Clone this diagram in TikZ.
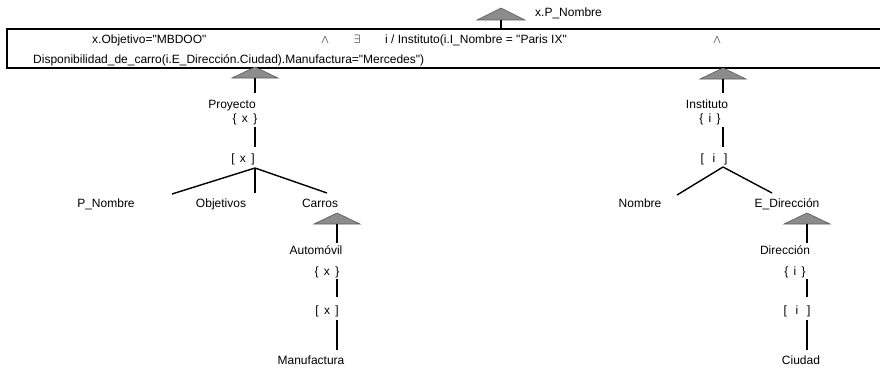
\documentclass[tikz,border=0pt]{standalone}
\usepackage{fontspec}
\setmainfont{Liberation Sans}[Ligatures=TeXOff]
\tikzset{
  lbl/.style={inner sep=0pt, text height=8.6pt, text depth=0pt, font=\fontsize{12}{14}\selectfont},
  tri/.style={fill=black!45, draw=black!65, line width=0.6pt},
  stem/.style={line width=1.4pt},
}
\begin{document}
\begin{tikzpicture}[x=1pt,y=-1pt]
    \useasboundingbox (0,0) rectangle (880,369);

    % consulta
    \node[draw, line width=1.1pt, minimum width=877pt, minimum height=39pt, inner sep=0pt] (qry) at (445.5,48.5) {};
    \node[lbl, anchor=west] (obj) at (92,39) {x.Objetivo="MBDOO"};
    \node[lbl] (and1) at (325,39) {$\wedge$};
    \node[lbl] (exi) at (357,39) {$\exists$};
    \node[lbl, anchor=west] (ins) at (385,39) {i / Instituto(i.I\_Nombre = "Paris IX"};
    \node[lbl] (and2) at (717,39) {$\wedge$};
    \node[lbl, anchor=west] (disp) at (33,59) {Disponibilidad\_de\_carro(i.E\_Dirección.Ciudad).Manufactura="Mercedes")};

    % resultado
    \coordinate (t0) at (501,8);
    \filldraw[tri] (t0) -- ++(-24,12) -- ++(48,0) -- cycle;
    \draw[stem] (501,20) -- (t0 |- qry.north);
    \node[lbl, anchor=west] (res) at (535,12) {x.P\_Nombre};

    % Proyecto
    \coordinate (t1) at (255,67);
    \filldraw[tri] (t1) -- ++(-23,11) -- ++(46,0) -- cycle;
    \node[lbl] (proy) at (232,104) {Proyecto};
    \node[lbl] (px) at (245,118) {\{ \,x\, \}};
    \node[lbl] (pb) at (243,158) {[ \,x\, ]};
    \node[lbl] (pnom) at (106,203) {P\_Nombre};
    \node[lbl] (objs) at (221,203) {Objetivos};
    \node[lbl] (carros) at (320,203) {Carros};
    \coordinate (p0) at (255,168);
    \draw[stem] (255,78) -- (255,93);
    \draw[stem] (255,127) -- (255,147);
    \draw[stem] (p0) -- (172,194);
    \draw[stem] (p0) -- (255,193);
    \draw[stem] (p0) -- (327,193);

    % Automovil
    \coordinate (t2) at (337,213);
    \filldraw[tri] (t2) -- ++(-23,11) -- ++(46,0) -- cycle;
    \node[lbl] (auto) at (316,250) {Automóvil};
    \node[lbl] (ax) at (327,271) {\{ \,x\, \}};
    \node[lbl] (ab) at (327,310) {[ \,x\, ]};
    \node[lbl] (manu) at (311,360) {Manufactura};
    \draw[stem] (337,224) -- (337,243);
    \draw[stem] (337,279) -- (337,297);
    \draw[stem] (337,320) -- (337,350);

    % Instituto
    \coordinate (t3) at (723,68);
    \filldraw[tri] (t3) -- ++(-23,11) -- ++(46,0) -- cycle;
    \node[lbl] (inst) at (707,104) {Instituto};
    \node[lbl] (ix) at (710,118) {\{ \,i\, \}};
    \node[lbl] (ib) at (714,158) {[ \;\,i\;\, ]};
    \node[lbl] (nomb) at (640,203) {Nombre};
    \node[lbl] (edir) at (787,203) {E\_Dirección};
    \coordinate (i0) at (723,167);
    \draw[stem] (723,79) -- (723,93);
    \draw[stem] (723,127) -- (723,147);
    \draw[stem] (i0) -- (677,195);
    \draw[stem] (i0) -- (772,193);

    % Direccion
    \coordinate (t4) at (807,213);
    \filldraw[tri] (t4) -- ++(-23,11) -- ++(46,0) -- cycle;
    \node[lbl] (dir) at (785,250) {Dirección};
    \node[lbl] (dx) at (795,271) {\{ \,i\, \}};
    \node[lbl] (db) at (797,310) {[ \;\,i\;\, ]};
    \node[lbl] (ciud) at (801,360) {Ciudad};
    \draw[stem] (807,224) -- (807,243);
    \draw[stem] (807,279) -- (807,297);
    \draw[stem] (807,320) -- (807,350);
\end{tikzpicture}
\end{document}
